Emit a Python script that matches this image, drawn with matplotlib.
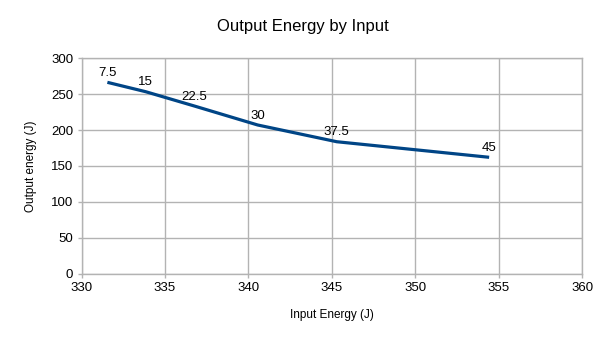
import matplotlib
matplotlib.use("Agg")
import matplotlib.pyplot as plt

plt.rcParams["font.family"] = ["Liberation Sans", "DejaVu Sans"]

# data
input_energy = [331.55, 333.85, 336.76, 340.56, 345.29, 354.42]
output_energy = [266.5, 253.4, 233.5, 207.0, 183.7, 162.0]
point_labels = ["7.5", "15", "22.5", "30", "37.5", "45"]

x_ticks = [330, 335, 340, 345, 350, 355, 360]
y_ticks = [0, 50, 100, 150, 200, 250, 300]

GRID = "#b3b3b3"
LINE = "#004586"

fig = plt.figure(figsize=(6.05, 3.40), dpi=100)
ax = fig.add_axes([81.5 / 605, 1 - 273.5 / 340, (582.3 - 81.5) / 605, (273.5 - 58.3) / 340])

ax.plot(input_energy, output_energy, color=LINE, lw=2.3, solid_capstyle="butt",
        solid_joinstyle="round", zorder=3)
for xv, yv, lab in zip(input_energy, output_energy, point_labels):
    ax.annotate(lab, (xv, yv), xytext=(0, 2.5), textcoords="offset points",
                ha="center", va="bottom", fontsize=9.5, color="black")

ax.set_xlim(330, 360)
ax.set_ylim(0, 300)
ax.set_xticks(x_ticks)
ax.set_yticks(y_ticks)
ax.grid(True, color=GRID, lw=1.0)
ax.set_axisbelow(True)
for s in ax.spines.values():
    s.set_color(GRID)
    s.set_linewidth(1.0)
ax.tick_params(axis="both", colors=GRID, length=3, width=1.0, labelsize=9.5,
               labelcolor="black", pad=3)

ax.set_xlabel("Input Energy (J)", fontsize=8.5, labelpad=11)
ax.set_ylabel("Output energy (J)", fontsize=8.5, labelpad=10)
fig.suptitle("Output Energy by Input", fontsize=12, y=1 - 27 / 340, va="center")

fig.savefig("out.png", dpi=100)
